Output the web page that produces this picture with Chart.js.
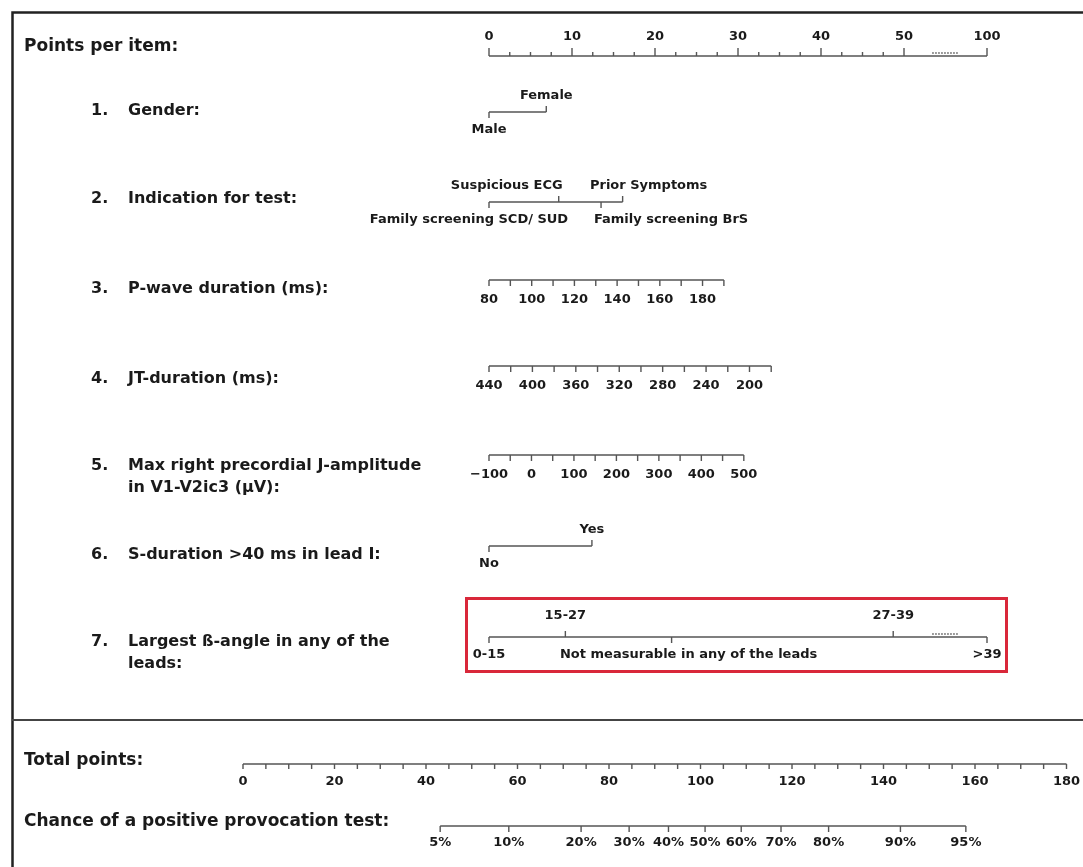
<!DOCTYPE html>
<html>
<head>
<meta charset="utf-8">
<script src="https://cdn.jsdelivr.net/npm/chart.js@4.4.1/dist/chart.umd.min.js"></script>
<style>
  html, body { margin: 0; padding: 0; background: #fff; }
  canvas { display: block; }
</style>
</head>
<body>
<canvas id="nomo" width="1083" height="867"></canvas>
<script>
// 🔧 Nomograma: puntos por item y probabilidad de test positivo

// 👉 Datos
const pointTicks = [0, 10, 20, 30, 40, 50, 100];

const genderCats = ['Male', 'Female'];
const genderPts = [0, 6.9];

const indicationCats = ['Family screening SCD/ SUD', 'Suspicious ECG', 'Family screening BrS', 'Prior Symptoms'];
const indicationPts = [0, 8.4, 13.5, 16.1];

const pwaveRange = [80, 190];
const pwavePts = [0, 28.3];
const pwaveTicks = [80, 90, 100, 110, 120, 130, 140, 150, 160, 170, 180, 190];
const pwaveLabels = [80, 100, 120, 140, 160, 180];

const jtRange = [440, 180];
const jtPts = [0, 34.0];
const jtTicks = [440, 420, 400, 380, 360, 340, 320, 300, 280, 260, 240, 220, 200, 180];
const jtLabels = [440, 400, 360, 320, 280, 240, 200];

const jampRange = [-100, 500];
const jampPts = [0, 30.7];
const jampTicks = [-100, -50, 0, 50, 100, 150, 200, 250, 300, 350, 400, 450, 500];
const jampLabels = [-100, 0, 100, 200, 300, 400, 500];

const sdurCats = ['No', 'Yes'];
const sdurPts = [0, 12.4];

const betaCats = ['0-15', '15-27', 'Not measurable in any of the leads', '27-39', '>39'];
const betaPts = [0, 9.2, 22.0, 48.7, 100];

const totalLabels = [0, 20, 40, 60, 80, 100, 120, 140, 160, 180];
const probLabels = ['5%', '10%', '20%', '30%', '40%', '50%', '60%', '70%', '80%', '90%', '95%'];
const probTotals = [43.1, 58.1, 73.9, 84.4, 93.0, 101.0, 108.9, 117.6, 128.0, 143.7, 158.0];

// 👉 Corte del eje de puntos (100 se dibuja en 60)
const breakFrom = 53.4, breakTo = 56.6, breakShift = 40;
const drawPts = v => (v >= 100 ? v - breakShift : v);

// 👉 Maquetación (filas en px)
const rows = { points: 56, gender: 112, indication: 202, pwave: 280, jt: 366, jamp: 455, sdur: 546, beta: 637, total: 764, prob: 826 };
const W = 1083, H = 867;
const lineColor = '#555';
const textColor = '#1a1a1a';
const FONT = '"DejaVu Sans", sans-serif';
const labelShift = { indication: [-20, -52, 70, 26], beta: [0, 0, 17, 0, 0] };

const toPts = (v, range, pts) => pts[0] + (v - range[0]) * (pts[1] - pts[0]) / (range[1] - range[0]);

// 👉 Helpers de datasets
const datasets = [];
const labels = [];

function axisLine(xId, y, from, to, dash) {
  datasets.push({
    data: [{ x: from, y: y }, { x: to, y: y }],
    xAxisID: xId, yAxisID: 'y', showLine: true, pointRadius: 0,
    borderColor: lineColor, borderWidth: dash ? 1.6 : 1.4, borderDash: dash || []
  });
}

function ticks(xId, y, values, len) {
  const data = [];
  values.forEach(v => {
    data.push({ x: v, y: y }, { x: v, y: y + len }, { x: NaN, y: NaN });
  });
  datasets.push({
    data, xAxisID: xId, yAxisID: 'y', showLine: true, pointRadius: 0,
    borderColor: lineColor, borderWidth: 1.4, spanGaps: false
  });
}

function label(xId, v, y, text, size, dx) {
  labels.push({ xId, v, y, text: String(text), size: size || 13, dx: dx || 0 });
}

const fmt = n => (n < 0 ? '\u2212' + Math.abs(n) : String(n));

// Puntos por item
axisLine('xp', rows.points, 0, drawPts(100));
axisLine('xp', rows.points - 3, breakFrom, breakTo, [1.5, 1.5]);
const minorPts = [];
for (let v = 2.5; v < 50; v += 2.5) if (v % 10 !== 0) minorPts.push(v);
ticks('xp', rows.points, minorPts, -4);
ticks('xp', rows.points, pointTicks.map(drawPts), -8);
pointTicks.forEach(v => label('xp', drawPts(v), rows.points - 19, v, 13));

// Variables categóricas
function categorical(key, cats, pts, y) {
  axisLine('xp', y, drawPts(pts[0]), drawPts(pts[pts.length - 1]));
  const up = [], down = [];
  cats.forEach((c, i) => {
    const p = drawPts(pts[i]);
    const shift = (labelShift[key] || [])[i] || 0;
    if (i % 2) { up.push(p); label('xp', p, y - 16, c, 13, shift); }
    else { down.push(p); label('xp', p, y + 18, c, 13, shift); }
  });
  ticks('xp', y, up, -6);
  ticks('xp', y, down, 6);
}
categorical('gender', genderCats, genderPts, rows.gender);
categorical('indication', indicationCats, indicationPts, rows.indication);
categorical('sdur', sdurCats, sdurPts, rows.sdur);

// Beta con corte
axisLine('xp', rows.beta, 0, drawPts(100));
axisLine('xp', rows.beta - 3, breakFrom, breakTo, [1.5, 1.5]);
betaCats.forEach((c, i) => {
  const p = drawPts(betaPts[i]);
  const shift = labelShift.beta[i];
  if (i % 2) { ticks('xp', rows.beta, [p], -6); label('xp', p, rows.beta - 21, c, 13, shift); }
  else { ticks('xp', rows.beta, [p], 6); label('xp', p, rows.beta + 18, c, 13, shift); }
});

// Variables continuas
function continuous(range, pts, tickVals, labelVals, y) {
  axisLine('xp', y, pts[0], pts[1]);
  ticks('xp', y, tickVals.map(v => toPts(v, range, pts)), 6);
  labelVals.forEach(v => label('xp', toPts(v, range, pts), y + 20, fmt(v), 13));
}
continuous(pwaveRange, pwavePts, pwaveTicks, pwaveLabels, rows.pwave);
continuous(jtRange, jtPts, jtTicks, jtLabels, rows.jt);
continuous(jampRange, jampPts, jampTicks, jampLabels, rows.jamp);

// Total de puntos
axisLine('xt', rows.total, totalLabels[0], totalLabels[totalLabels.length - 1]);
const totalMinor = [];
for (let v = 0; v <= 180; v += 5) totalMinor.push(v);
ticks('xt', rows.total, totalMinor, 5);
totalLabels.forEach(v => label('xt', v, rows.total + 18, v, 13));

// Probabilidad
axisLine('xt', rows.prob, probTotals[0], probTotals[probTotals.length - 1]);
ticks('xt', rows.prob, probTotals, 6);
probTotals.forEach((t, i) => label('xt', t, rows.prob + 17, probLabels[i], 13));

// 👉 Textos de la izquierda [número, texto, x, y, tamaño]
const leftTexts = [
  ['', 'Points per item:', 24, 47, 17],
  ['1.', 'Gender:', 128, 111, 16],
  ['2.', 'Indication for test:', 128, 199, 16],
  ['3.', 'P-wave duration (ms):', 128, 289, 16],
  ['4.', 'JT-duration (ms):', 128, 379, 16],
  ['5.', 'Max right precordial J-amplitude', 128, 466, 16],
  ['', 'in V1-V2ic3 (\u00b5V):', 128, 488, 16],
  ['6.', 'S-duration >40 ms in lead I:', 128, 555, 16],
  ['7.', 'Largest \u00df-angle in any of the', 128, 642, 16],
  ['', 'leads:', 128, 664, 16],
  ['', 'Total points:', 24, 761, 17],
  ['', 'Chance of a positive provocation test:', 24, 822, 17]
];

const nomoPlugin = {
  id: 'nomo',
  beforeDatasetsDraw(chart) {
    const ctx = chart.ctx;
    ctx.save();
    ctx.strokeStyle = '#222';
    ctx.lineWidth = 2.5;
    ctx.beginPath();
    ctx.moveTo(12.5, H); ctx.lineTo(12.5, 12.5); ctx.lineTo(W, 12.5);
    ctx.stroke();
    ctx.strokeStyle = '#444';
    ctx.lineWidth = 1.8;
    ctx.beginPath();
    ctx.moveTo(12, 720); ctx.lineTo(W, 720);
    ctx.stroke();
    ctx.strokeStyle = '#d9283a';
    ctx.lineWidth = 3;
    ctx.strokeRect(466.5, 598.5, 540, 73);
    ctx.restore();
  },
  afterDatasetsDraw(chart) {
    const ctx = chart.ctx;
    ctx.save();
    ctx.fillStyle = textColor;
    ctx.textBaseline = 'middle';
    ctx.textAlign = 'center';
    labels.forEach(l => {
      const x = chart.scales[l.xId].getPixelForValue(l.v) + l.dx;
      const y = chart.scales.y.getPixelForValue(l.y);
      ctx.font = `bold ${l.size}px ${FONT}`;
      ctx.fillText(l.text, x, y);
    });
    ctx.textAlign = 'left';
    leftTexts.forEach(([n, t, x, y, s]) => {
      ctx.font = `bold ${s}px ${FONT}`;
      if (n) ctx.fillText(n, 91, y);
      ctx.fillText(t, x, y);
    });
    ctx.restore();
  }
};

// px = 489 + 8.3 * puntos ; px = 243 + 4.575 * total
const ptsPx = 8.3, ptsZero = 489;
const totPx = 4.575, totZero = 243;

new Chart(document.getElementById('nomo'), {
  type: 'scatter',
  data: { datasets },
  options: {
    responsive: false,
    devicePixelRatio: 1,
    animation: false,
    layout: { padding: 0 },
    plugins: { legend: { display: false }, tooltip: { enabled: false } },
    scales: {
      xp: { type: 'linear', axis: 'x', display: false, min: -ptsZero / ptsPx, max: (W - ptsZero) / ptsPx },
      xt: { type: 'linear', axis: 'x', display: false, min: -totZero / totPx, max: (W - totZero) / totPx },
      y: { type: 'linear', display: false, min: 0, max: H, reverse: true }
    }
  },
  plugins: [nomoPlugin]
});
</script>
</body>
</html>
